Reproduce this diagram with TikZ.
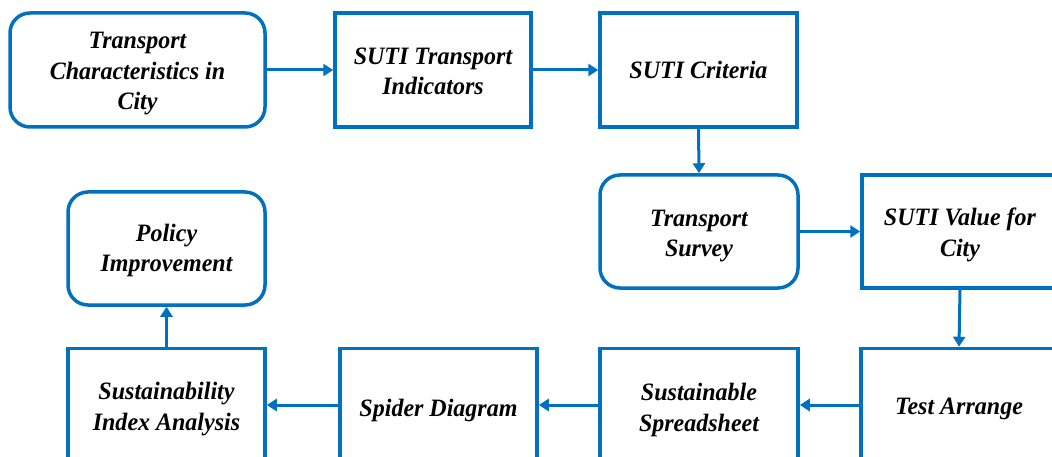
\documentclass[tikz,border=0pt]{standalone}
\usepackage{fontspec}
\setmainfont{Liberation Serif}
\newfontfamily\boxfont{Liberation Serif}[FakeStretch=0.96]
\usetikzlibrary{arrows.meta}
\definecolor{boxblue}{HTML}{0070C0}
\begin{document}
\begin{tikzpicture}[x=1pt,y=-1pt,
  box/.style={draw=boxblue, line width=3.5pt, fill=white, minimum height=113pt},
  rbox/.style={box, rounded corners=20pt},
  txt/.style={align=center, inner sep=0pt,
    font=\boxfont\fontsize{25}{30.5}\selectfont\bfseries\itshape},
  flow/.style={draw=boxblue, line width=3pt, -{Triangle[length=10pt,width=12pt]}}]
\useasboundingbox (0,0) rectangle (1052,457);
\clip (0,0) rectangle (1052,457);
\node[rbox, minimum width=255pt, minimum height=114pt] (b1) at (137.5,70) {};
\node[box, minimum width=196pt, minimum height=114pt] (b2) at (433,70) {};
\node[box, minimum width=197pt, minimum height=114pt] (b3) at (698.5,70) {};
\node[rbox, minimum width=198pt] (b4) at (699,231.5) {};
\node[box, minimum width=196pt] (b5) at (960,231.5) {};
\node[box, minimum width=196pt] (b6) at (959,405) {};
\node[box, minimum width=198pt] (b7) at (699,405) {};
\node[box, minimum width=197pt] (b8) at (438.5,405) {};
\node[box, minimum width=197pt] (b9) at (166.5,405) {};
\node[rbox, minimum width=197pt] (b10) at (166.5,248.5) {};
\node[txt] (t1) at (137.5,74) {Transport\\Characteristics in\\City};
\node[txt] (t2) at (433,71.5) {SUTI Transport\\Indicators};
\node[txt] (t3) at (698.5,70) {SUTI Criteria};
\node[txt] (t4) at (699,236) {Transport\\Survey};
\node[txt] (t5) at (960,235) {SUTI Value for\\City};
\node[txt] (t6) at (959,409) {Test Arrange};
\node[txt] (t7) at (699,410) {Sustainable\\Spreadsheet};
\node[txt] (t8) at (438.5,410) {Spider Diagram};
\node[txt] (t9) at (166.5,409) {Sustainability\\Index Analysis};
\node[txt] (t10) at (166.5,250.5) {Policy\\Improvement};
\draw[flow] (b1.east) -- (b2.west);
\draw[flow] (b2.east) -- (b3.west);
\draw[flow] (b3.south) -- (b4.north);
\draw[flow] (b4.east) -- (b5.west);
\draw[flow] (b5.south) -- (b6.north);
\draw[flow] (b6.west) -- (b7.east);
\draw[flow] (b7.west) -- (b8.east);
\draw[flow] (b8.west) -- (b9.east);
\draw[flow] (b9.north) -- (b10.south);
\end{tikzpicture}
\end{document}
